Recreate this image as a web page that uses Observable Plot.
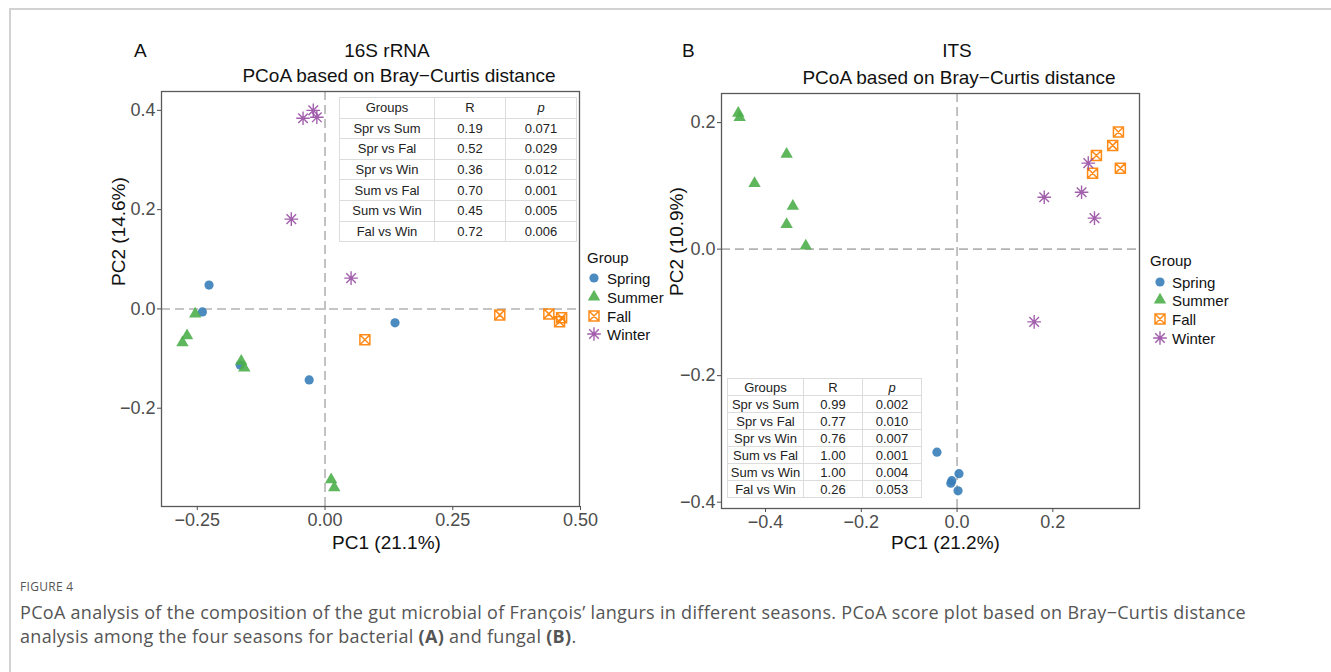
<!DOCTYPE html>
<html><head><meta charset="utf-8">
<script src="https://cdn.jsdelivr.net/npm/d3@7"></script>
<script src="https://cdn.jsdelivr.net/npm/@observablehq/plot@0.6"></script>
<style>
body{margin:0;background:#fff;}
#fig{position:relative;width:1331px;height:672px;overflow:hidden;font-family:"Liberation Sans",Arial,sans-serif;background:#fff;}
.abs{position:absolute;white-space:nowrap;line-height:1;}
.ctr{transform:translate(-50%,-50%);}
.mid{transform:translateY(-50%);}
.ttl{font-size:19px;color:#111;}
table.st{position:absolute;border-collapse:collapse;background:#fff;font-size:13px;color:#222;table-layout:fixed;}
table.st td{border:1px solid #dcdcdc;text-align:center;padding:0;line-height:1;}
.leg{position:absolute;font-size:15px;color:#111;white-space:nowrap;line-height:1;}
.frame{position:absolute;left:9px;top:8px;width:1400px;height:700px;border-top:2px solid #d2d2d2;border-left:2px solid #d2d2d2;}
.cap{position:absolute;left:20px;font-family:"Open Sans",sans-serif;color:#555;white-space:nowrap;}
</style></head><body><div id="fig"></div><script>
// ---------- data ----------
const groups = ["Spring", "Summer", "Fall", "Winter"];
const groupColors = ["#377EB8", "#4DAF4A", "#FF7F00", "#984EA3"];

// Panel A: 16S rRNA
const a_spring_pc1 = [-0.227, -0.240, -0.166, -0.031, 0.137];
const a_spring_pc2 = [0.048, -0.006, -0.113, -0.143, -0.028];
const a_summer_pc1 = [-0.254, -0.270, -0.279, -0.164, -0.158, 0.012, 0.018];
const a_summer_pc2 = [-0.010, -0.054, -0.068, -0.105, -0.119, -0.344, -0.360];
const a_fall_pc1 = [0.078, 0.342, 0.438, 0.463, 0.459];
const a_fall_pc2 = [-0.062, -0.012, -0.010, -0.018, -0.026];
const a_winter_pc1 = [-0.023, -0.043, -0.016, -0.066, 0.051];
const a_winter_pc2 = [0.400, 0.384, 0.386, 0.181, 0.062];

// Panel B: ITS
const b_spring_pc1 = [-0.042, 0.004, -0.013, -0.011, 0.002];
const b_spring_pc2 = [-0.321, -0.355, -0.370, -0.366, -0.382];
const b_summer_pc1 = [-0.457, -0.454, -0.356, -0.423, -0.343, -0.356, -0.316];
const b_summer_pc2 = [0.215, 0.208, 0.150, 0.104, 0.068, 0.039, 0.005];
const b_fall_pc1 = [0.337, 0.325, 0.291, 0.341, 0.283];
const b_fall_pc2 = [0.185, 0.164, 0.148, 0.128, 0.120];
const b_winter_pc1 = [0.274, 0.182, 0.260, 0.287, 0.161];
const b_winter_pc2 = [0.136, 0.082, 0.090, 0.049, -0.115];

// ANOSIM tables
const comparisons = ["Spr vs Sum", "Spr vs Fal", "Spr vs Win", "Sum vs Fal", "Sum vs Win", "Fal vs Win"];
const a_R = ["0.19", "0.52", "0.36", "0.70", "0.45", "0.72"];
const a_p = ["0.071", "0.029", "0.012", "0.001", "0.005", "0.006"];
const b_R = ["0.99", "0.77", "0.76", "1.00", "1.00", "0.26"];
const b_p = ["0.002", "0.010", "0.007", "0.001", "0.004", "0.053"];

// ticks
const a_xTicks = [-0.25, 0, 0.25, 0.5];
const a_yTicks = [-0.2, 0, 0.2, 0.4];
const b_xTicks = [-0.4, -0.2, 0, 0.2];
const b_yTicks = [-0.4, -0.2, 0, 0.2];

// ---------- symbols ----------
const triUp = {draw(ctx, size) { const r = Math.sqrt(size / Math.PI); const h = r * Math.sqrt(3);
  ctx.moveTo(0, -h * 2 / 3); ctx.lineTo(r, h / 3); ctx.lineTo(-r, h / 3); ctx.closePath(); }};
const squareCross = {draw(ctx, size) { const r = Math.sqrt(size / Math.PI);
  ctx.moveTo(-r, -r); ctx.lineTo(r, -r); ctx.lineTo(r, r); ctx.lineTo(-r, r); ctx.closePath();
  ctx.moveTo(-r, -r); ctx.lineTo(r, r); ctx.moveTo(r, -r); ctx.lineTo(-r, r); }};
const star8 = {draw(ctx, size) { const r = Math.sqrt(size / Math.PI); const d = r * Math.SQRT1_2;
  ctx.moveTo(-r, 0); ctx.lineTo(r, 0); ctx.moveTo(0, -r); ctx.lineTo(0, r);
  ctx.moveTo(-d, -d); ctx.lineTo(d, d); ctx.moveTo(d, -d); ctx.lineTo(-d, d); }};
const symStyles = [
  {symbol: "circle", r: 4.6, filled: true},
  {symbol: triUp, r: 6.2, filled: true},
  {symbol: squareCross, r: 5, filled: false, sw: 1.5},
  {symbol: star8, r: 6.8, filled: false, sw: 1.4}
];

const rows = (x, y) => x.map((v, i) => ({pc1: v, pc2: y[i]}));

function panel(cfg) {
  const dash = {stroke: "#b3b3b3", strokeWidth: 1.6, strokeDasharray: "9,5"};
  const dots = cfg.series.map((s, gi) => {
    const st = symStyles[gi];
    const o = {x: "pc1", y: "pc2", symbol: st.symbol, r: st.r};
    if (st.filled) Object.assign(o, {fill: groupColors[gi], fillOpacity: 0.9, stroke: "none"});
    else Object.assign(o, {fill: "none", stroke: groupColors[gi], strokeOpacity: 0.9, strokeWidth: st.sw});
    return Plot.dot(s, o);
  });
  return Plot.plot({
    width: cfg.width, height: cfg.height,
    marginLeft: cfg.ml, marginRight: cfg.mr, marginTop: cfg.mt, marginBottom: cfg.mb,
    x: {domain: cfg.xDomain, label: null},
    y: {domain: cfg.yDomain, label: null},
    style: {fontFamily: '"Liberation Sans", Arial, sans-serif', background: "transparent", overflow: "visible"},
    marks: [
      Plot.ruleX([0], dash),
      Plot.ruleY([0], dash),
      Plot.frame({stroke: "#5a5a5a", strokeWidth: 1.3}),
      Plot.axisX({ticks: cfg.xTicks, tickFormat: cfg.xFmt, tickSize: 4, tickPadding: 3, fontSize: 18, color: "#4d4d4d", label: null}),
      Plot.axisY({ticks: cfg.yTicks, tickFormat: d3.format(".1f"), tickSize: 4, tickPadding: 2, fontSize: 18, color: "#4d4d4d", label: null}),
      ...dots,
      Plot.text([cfg.xLabel], {text: d => d, frameAnchor: "bottom", dx: cfg.xlDx, dy: cfg.xlDy, fontSize: 19, fill: "#111"}),
      Plot.text([cfg.yLabel], {text: d => d, frameAnchor: "left", rotate: -90, dx: cfg.ylDx, dy: cfg.ylDy, fontSize: 19, fill: "#111"})
    ]
  });
}

const fig = document.getElementById("fig");
function place(el, left, top, w) {
  const d = document.createElement("div");
  d.style.cssText = `position:absolute;left:${left}px;top:${top}px;width:${w}px;`;
  d.appendChild(el); fig.appendChild(d); return d;
}
function addText(txt, x, y, cls, extra = "") {
  const d = document.createElement("div");
  d.className = "abs " + cls; d.style.cssText = `left:${x}px;top:${y}px;` + extra;
  d.textContent = txt; fig.appendChild(d); return d;
}
function addTable(left, top, colW, rowH, R, P) {
  const t = document.createElement("table"); t.className = "st";
  t.style.left = left + "px"; t.style.top = top + "px";
  const cg = document.createElement("colgroup");
  colW.forEach(w => { const c = document.createElement("col"); c.style.width = w + "px"; cg.appendChild(c); });
  t.appendChild(cg);
  const hdr = ["Groups", "R", "p"];
  const all = [hdr, ...comparisons.map((c, i) => [c, R[i], P[i]])];
  all.forEach((r, ri) => {
    const tr = document.createElement("tr"); tr.style.height = rowH + "px";
    r.forEach((v, ci) => { const td = document.createElement("td"); td.textContent = v;
      if (ri === 0 && ci === 2) td.style.fontStyle = "italic"; tr.appendChild(td); });
    t.appendChild(tr);
  });
  t.style.width = d3.sum(colW) + "px";
  fig.appendChild(t);
}
function addLegend(x, titleY, symX, labX, ys) {
  addText("Group", x, titleY, "mid", "font-size:15px;color:#111;");
  groups.forEach((g, gi) => {
    const st = symStyles[gi];
    const type = st.symbol === "circle" ? d3.symbolCircle : st.symbol;
    const path = d3.symbol(type, Math.PI * st.r * st.r)();
    const svg = d3.create("svg").attr("width", 20).attr("height", 20)
      .style("position", "absolute").style("left", (symX - 10) + "px").style("top", (ys[gi] - 10) + "px");
    const p = svg.append("path").attr("d", path).attr("transform", "translate(10,10)");
    if (st.filled) p.attr("fill", groupColors[gi]).attr("fill-opacity", 0.9);
    else p.attr("fill", "none").attr("stroke", groupColors[gi]).attr("stroke-width", st.sw).attr("stroke-opacity", 0.9);
    fig.appendChild(svg.node());
    addText(g, labX, ys[gi], "mid", "font-size:15px;color:#111;");
  });
}

// frame line of figure box
const fr = document.createElement("div"); fr.className = "frame"; fig.appendChild(fr);

// Panel A
place(panel({
  width: 500, height: 480, ml: 61, mr: 21, mt: 6, mb: 59,
  xDomain: [-0.32, 0.498], yDomain: [-0.398, 0.438],
  xTicks: a_xTicks, yTicks: a_yTicks, xFmt: d3.format(".2f"),
  series: [rows(a_spring_pc1, a_spring_pc2), rows(a_summer_pc1, a_summer_pc2), rows(a_fall_pc1, a_fall_pc2), rows(a_winter_pc1, a_winter_pc2)],
  xLabel: "PC1 (21.1%)", xlDx: 16, xlDy: 42, yLabel: "PC2 (14.6%)", ylDx: -43, ylDy: -13
}), 100, 85, 500);

// Panel B
place(panel({
  width: 500, height: 480, ml: 61, mr: 21, mt: 8, mb: 57,
  xDomain: [-0.492, 0.381], yDomain: [-0.41, 0.246],
  xTicks: b_xTicks, yTicks: b_yTicks, xFmt: d3.format(".1f"),
  series: [rows(b_spring_pc1, b_spring_pc2), rows(b_summer_pc1, b_summer_pc2), rows(b_fall_pc1, b_fall_pc2), rows(b_winter_pc1, b_winter_pc2)],
  xLabel: "PC1 (21.2%)", xlDx: 15, xlDy: 40, yLabel: "PC2 (10.9%)", ylDx: -45, ylDy: -5
}), 660, 85, 500);

// Titles
addText("A", 134, 50, "mid ttl");
addText("16S rRNA", 387, 50, "ctr ttl");
addText("PCoA based on Bray\u2212Curtis distance", 399, 75, "ctr ttl");
addText("B", 682, 50, "mid ttl");
addText("ITS", 957, 50, "ctr ttl");
addText("PCoA based on Bray\u2212Curtis distance", 959, 77, "ctr ttl");

// Tables
addTable(339, 97, [95, 71, 71], 20.6, a_R, a_p);
addTable(727, 378, [76, 59, 59], 17, b_R, b_p);

// Legends
addLegend(587, 257, 594, 607, [278, 297, 316, 334]);
addLegend(1150, 260, 1160, 1172, [282, 300, 319, 338]);

// Caption
const c0 = document.createElement("div"); c0.className = "cap";
c0.style.cssText = "top:578px;font-size:12px;letter-spacing:0.3px;";
c0.textContent = "FIGURE 4"; fig.appendChild(c0);
const c1 = document.createElement("div"); c1.className = "cap";
c1.style.cssText = "top:600px;font-size:18px;letter-spacing:0.3px;line-height:24px;";
c1.innerHTML = "PCoA analysis of the composition of the gut microbial of François’ langurs in different seasons. PCoA score plot based on Bray\u2212Curtis distance<br>analysis among the four seasons for bacterial <b>(A)</b> and fungal <b>(B)</b>.";
fig.appendChild(c1);
</script></body></html>
